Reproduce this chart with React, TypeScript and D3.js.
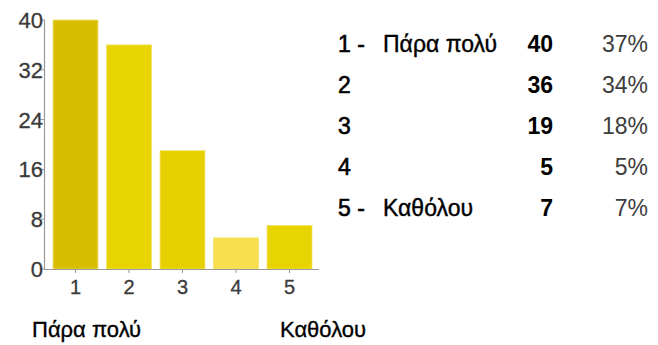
import React from "react";
import * as d3 from "d3";

const categories = ["1", "2", "3", "4", "5"];
const counts = [40, 36, 19, 5, 7];
const percents = ["37%", "34%", "18%", "5%", "7%"];
const rowLabels = ["1 -", "2", "3", "4", "5 -"];
const rowTexts = ["Πάρα πολύ", "", "", "", "Καθόλου"];
const barColors = ["#d8bd00", "#e8d400", "#e6d000", "#f7df50", "#e8d400"];
const yTicks = [0, 8, 16, 24, 32, 40];
const bottomLeft = "Πάρα πολύ";
const bottomRight = "Καθόλου";

export default function App() {
  const W = 658, H = 345;
  const x = d3.scaleBand<string>().domain(categories).range([45, 320]).paddingInner(0.16).paddingOuter(0.15);
  const y = d3.scaleLinear().domain([0, 40]).range([269, 20]);
  const font = "Arial, 'Liberation Sans', sans-serif";
  const rowY = d3.scaleLinear().domain([0, 4]).range([52, 216]);
  return (
    <svg width={W} height={H} style={{ position: "absolute", left: 0, top: 0, background: "#fff" }} fontFamily={font}>
      {categories.map((c, i) => (
        <rect key={c} x={x(c)} y={y(counts[i])} width={x.bandwidth()} height={y(0) - y(counts[i])}
          fill={barColors[i]} stroke="#f2e36a" strokeWidth={0.8} />
      ))}
      <line x1={44.5} x2={44.5} y1={y(40)} y2={y(0)} stroke="#999" strokeWidth={1.2} />
      <line x1={44} x2={319} y1={y(0) + 0.5} y2={y(0) + 0.5} stroke="#999" strokeWidth={1.2} />
      {yTicks.map(t => (
        <g key={t}>
          <line x1={40} x2={45} y1={y(t)} y2={y(t)} stroke="#999" strokeWidth={1} />
          <text x={43} y={y(t)} dy="0.36em" textAnchor="end" fontSize={22} fill="#3a3a3a" stroke="#3a3a3a" strokeWidth={0.3}>{t}</text>
        </g>
      ))}
      {categories.map(c => (
        <g key={c}>
          <line x1={x(c)! + x.bandwidth() / 2} x2={x(c)! + x.bandwidth() / 2} y1={y(0)} y2={y(0) + 4} stroke="#999" />
          <text x={x(c)! + x.bandwidth() / 2} y={294} textAnchor="middle" fontSize={20} fill="#3a3a3a" stroke="#3a3a3a" strokeWidth={0.3}>{c}</text>
        </g>
      ))}
      <text x={32} y={337} fontSize={22} fill="#000" stroke="#000" strokeWidth={0.35}>{bottomLeft}</text>
      <text x={280} y={337} fontSize={22} fill="#000" stroke="#000" strokeWidth={0.35}>{bottomRight}</text>
      {categories.map((c, i) => (
        <g key={"r" + c}>
          <text x={338} y={rowY(i)} fontSize={23} fill="#000" stroke="#000" strokeWidth={0.6}>{rowLabels[i]}</text>
          <text x={383} y={rowY(i)} fontSize={23} fill="#000" stroke="#000" strokeWidth={0.4}>{rowTexts[i]}</text>
          <text x={553} y={rowY(i)} fontSize={23} fontWeight="bold" textAnchor="end" fill="#000">{counts[i]}</text>
          <text x={648} y={rowY(i)} fontSize={23} textAnchor="end" fill="#3c3c3c">{percents[i]}</text>
        </g>
      ))}
    </svg>
  );
}
